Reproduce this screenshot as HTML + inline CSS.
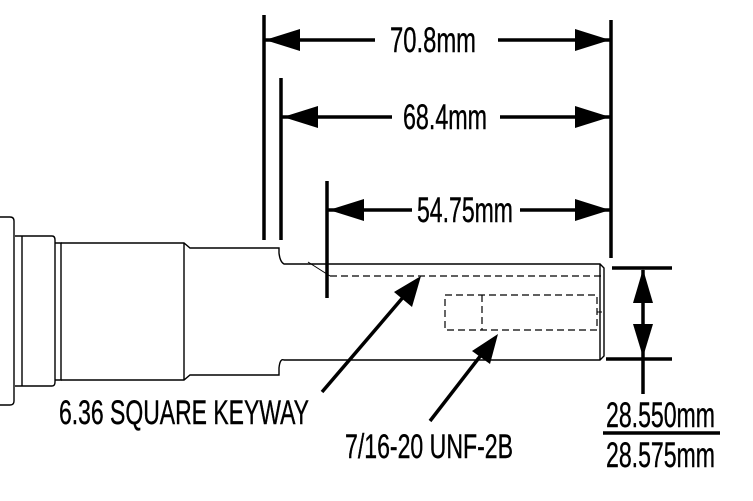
<!DOCTYPE html>
<html><head><style>html,body{margin:0;padding:0;background:#fff;width:753px;height:501px;overflow:hidden}</style></head>
<body>
<svg width="753" height="501" viewBox="0 0 753 501" xmlns="http://www.w3.org/2000/svg" font-family="Liberation Sans, Arial, sans-serif">
<g fill="none" stroke="#000" stroke-width="1.4">
<path d="M0,217 H10 Q14,217 14,221 V401 Q14,405 10,405 H0"/>
<path d="M15,236 H52 Q55,236 55,240 V382 Q55,386 52,386 H15"/>
<path d="M22,236 V386"/>
<path d="M55,243 H61 V380 H55"/>
<path d="M61,243 H184 L190,248 H279 V253 Q280,262 284,264 H600 L604,268 V356 L600,360 H284 Q280,358 279,368 V375 H190 L184,380 H61"/>
<path d="M184,243 V380"/>
<path d="M600,264 V360"/>
</g>
<g fill="none" stroke="#000" stroke-width="1.2" stroke-dasharray="7,4">
<path d="M330,276 H601"/>
<path d="M445,295 H597 V330 H445 Z"/>
<path d="M482,295 V330"/>
</g>
<path d="M308,262 L330,276" stroke="#000" stroke-width="1" fill="none"/>
<path d="M597,312 H602" stroke="#000" stroke-width="1"/>
<g stroke="#000" stroke-width="3.5">
<line x1="264" y1="15" x2="264" y2="240"/>
<line x1="281" y1="78" x2="281" y2="240"/>
<line x1="327" y1="181" x2="327" y2="298"/>
<line x1="611" y1="20" x2="611" y2="258"/>
<line x1="264" y1="40" x2="375" y2="40"/><line x1="498" y1="40" x2="611" y2="40"/>
<line x1="282" y1="117" x2="392" y2="117"/><line x1="500" y1="117" x2="611" y2="117"/>
<line x1="328" y1="210" x2="412" y2="210"/><line x1="520" y1="210" x2="611" y2="210"/>
<line x1="612" y1="268" x2="672" y2="268"/>
<line x1="606" y1="359" x2="672" y2="359"/>
<line x1="643" y1="270" x2="643" y2="394"/>
<line x1="603" y1="433" x2="720" y2="433"/>
<line x1="322" y1="392" x2="405" y2="295"/>
<line x1="430" y1="421" x2="485" y2="350"/>
</g>
<g fill="#000">
<polygon points="265,40 300,29 300,51"/><polygon points="610,40 575,29 575,51"/>
<polygon points="283,117 318,106 318,128"/><polygon points="610,117 575,106 575,128"/>
<polygon points="329,210 364,199 364,221"/><polygon points="610,210 575,199 575,221"/>
<polygon points="643,269 633,303 653,303"/><polygon points="643,357 633,324 653,324"/>
<polygon points="421,276 412,307 394,292"/>
<polygon points="498,334 490,364 472,351"/>
</g>
<g fill="#000" font-size="35" stroke="#000" stroke-width="0.4">
<text x="390" y="52" textLength="86" lengthAdjust="spacingAndGlyphs">70.8mm</text>
<text x="403" y="129" textLength="84" lengthAdjust="spacingAndGlyphs">68.4mm</text>
<text x="417" y="222" textLength="96" lengthAdjust="spacingAndGlyphs">54.75mm</text>
<text x="606" y="427" textLength="109" lengthAdjust="spacingAndGlyphs">28.550mm</text>
<text x="606" y="467" textLength="109" lengthAdjust="spacingAndGlyphs">28.575mm</text>
<text x="59" y="424" font-size="34" textLength="250" lengthAdjust="spacingAndGlyphs">6.36 SQUARE KEYWAY</text>
<text x="345" y="458" font-size="34" textLength="168" lengthAdjust="spacingAndGlyphs">7/16-20 UNF-2B</text>
</g>
</svg>
</body></html>
